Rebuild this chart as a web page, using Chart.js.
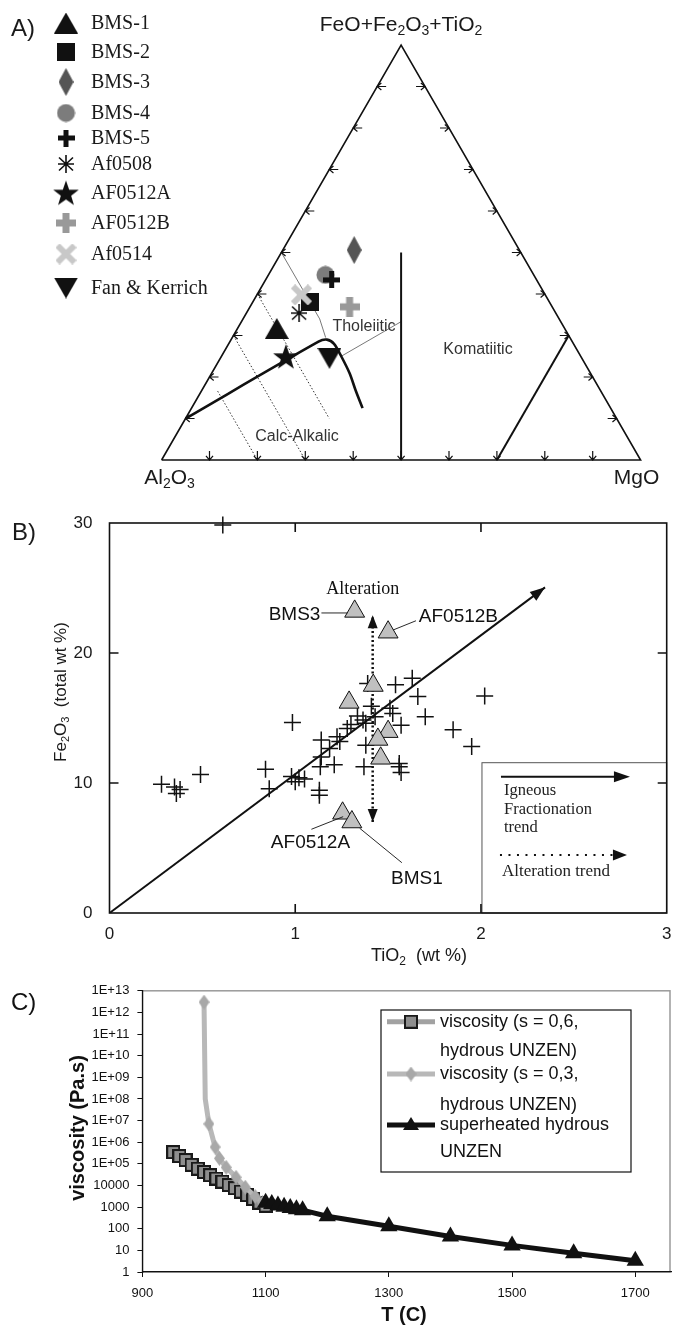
<!DOCTYPE html>
<html><head><meta charset="utf-8">
<script src="https://cdn.jsdelivr.net/npm/chart.js@4.4.1/dist/chart.umd.min.js"></script>
<style>
html,body{margin:0;padding:0;background:#fff;}
body{width:682px;height:1327px;position:relative;overflow:hidden;}
canvas{position:absolute;left:0;}
#cA{top:0}#cB{top:495px}#cC{top:975px}
</style></head><body>
<canvas id="cA" width="682" height="495"></canvas>
<canvas id="cB" width="682" height="480"></canvas>
<canvas id="cC" width="682" height="352"></canvas>
<script>
// ---------- A) ternary, compositions as [Al2O3, FeO+Fe2O3+TiO2, MgO]
const terNames = ["BMS-1","BMS-2","BMS-3","BMS-4","BMS-5","Af0508","AF0512A","AF0512B","Af0514","Fan & Kerrich"];
const terAl = [0.601,0.500,0.345,0.435,0.428,0.536,0.616,0.423,0.509,0.527];
const terFe = [0.317,0.381,0.506,0.446,0.434,0.354,0.249,0.369,0.398,0.245];
const terMg = [0.082,0.119,0.149,0.119,0.138,0.110,0.135,0.208,0.093,0.228];
const triOutline = [[1,0,0],[0,1,0],[0,0,1],[1,0,0]];
const thCaBoundary = [[0.90,0.10,0],[0.530,0.285,0.185],[0.510,0.290,0.200],[0.500,0.280,0.220],[0.500,0.250,0.250],[0.503,0.209,0.288],[0.511,0.168,0.321],[0.518,0.125,0.357]];
const komLine = [[0.5,0,0.5],[0.25,0.5,0.25]];
const mgLine = [[0.3,0,0.7],[0,0.3,0.7]];
const al50Line = [[0.5,0.5,0],[0.5,0.34,0.16],[0.51,0.295,0.195]];
const hmtLine = [[0.5,0.25,0.25],[1/3,1/3,1/3]];
const dotLines = [[[0.6,0.4,0],[0.6,0.1,0.3]],[[0.7,0.3,0],[0.7,0,0.3]],[[0.8,0.166,0.034],[0.8,0,0.2]]];
const terTicks = [0.1,0.2,0.3,0.4,0.5,0.6,0.7,0.8,0.9];

// ---------- B) TiO2 vs Fe2O3
const basaltTi = [0.28,0.35,0.36,0.38,0.49,0.84,0.86,0.985,0.98,1.0,1.02,1.05,1.14,1.14,1.135,1.13,1.13,1.21,1.185,1.225,1.24,1.28,1.30,1.335,1.365,1.38,1.41,1.38,1.37,1.39,1.43,1.51,1.525,1.57,1.54,1.63,1.66,1.70,1.56,1.56,1.57,1.85,1.95,2.02,0.61];
const basaltFe = [9.9,9.7,9.2,9.5,10.65,11.05,9.55,14.65,10.5,10.1,10.4,10.3,13.3,12.0,11.25,9.45,9.05,11.4,12.65,13.55,13.2,14.2,14.5,15.15,14.85,14.6,15.9,12.9,11.25,17.65,15.1,15.75,15.35,14.45,17.55,18.05,16.65,15.1,11.5,11.25,10.8,14.1,12.8,16.7,29.85];
const sampleTi = [1.32,1.50,1.42,1.29,1.50,1.445,1.46,1.255,1.305];
const sampleFe = [23.2,21.6,17.5,16.2,13.95,13.35,11.9,7.67,7.0];
const fracTrendTi = [0,2.345], fracTrendFe = [0,25.05];
const altTrendTi = [1.417,1.417], altTrendFe = [7.0,22.9];
const bXTicks = [0,1,2,3], bYTicks = [0,10,20,30];

// ---------- C) viscosity vs T
const tS06 = [950,960,970,980,990,1000,1010,1020,1030,1040,1050,1060,1070,1080,1090,1100];
const vS06 = [3.5e5,2.3e5,1.5e5,9e4,6e4,4.2e4,3e4,2.1e4,1.5e4,1.05e4,7.5e3,5.2e3,3.6e3,2.4e3,1.6e3,1.15e3];
const tS03 = [1000,1002,1008,1018,1025,1036,1052,1067,1083,1095];
const vS03 = [3e12,1e8,7e6,6e5,1.8e5,6.9e4,2.4e4,8.3e3,3.1e3,1.6e3];
const tSup = [1100,1110,1120,1130,1140,1150,1160,1200,1300,1400,1500,1600,1700];
const vSup = [1600,1400,1200,1050,900,800,720,380,130,44,17,7.3,3.3];
const cXTicks = [900,1100,1300,1500,1700];
const cYTicks = [1,10,100,1e3,1e4,1e5,1e6,1e7,1e8,1e9,1e10,1e11,1e12,1e13];

const SANS = '"Liberation Sans", Arial, sans-serif', SERIF = '"Liberation Serif", "Times New Roman", serif';

function mk(w,h,fn){const c=document.createElement('canvas');c.width=w;c.height=h;fn(c.getContext('2d'),w,h);return c;}
function plus(g,w,h,t,col){g.fillStyle=col;g.fillRect((w-t)/2,0,t,h);g.fillRect(0,(h-t)/2,w,t);}
function star(g,cx,cy,ro,ri){g.beginPath();for(let i=0;i<10;i++){const r=i%2?ri:ro,a=-Math.PI/2+i*Math.PI/5;g.lineTo(cx+r*Math.cos(a),cy+r*Math.sin(a));}g.closePath();g.fill();}
const markA = [
  mk(24,21,(g,w,h)=>{g.fillStyle='#111';g.beginPath();g.moveTo(w/2,0);g.lineTo(w,h);g.lineTo(0,h);g.fill();}),
  mk(18,18,(g,w,h)=>{g.fillStyle='#111';g.fillRect(0,0,w,h);}),
  mk(15,28,(g,w,h)=>{g.fillStyle='#555';g.beginPath();g.moveTo(w/2,0);g.lineTo(w,h/2);g.lineTo(w/2,h);g.lineTo(0,h/2);g.fill();}),
  mk(19,19,(g,w,h)=>{g.fillStyle='#7c7c7c';g.beginPath();g.arc(w/2,h/2,9,0,7);g.fill();}),
  mk(17,17,(g,w,h)=>plus(g,w,h,5,'#111')),
  mk(16,18,(g,w,h)=>{g.strokeStyle='#111';g.lineWidth=1.6;g.beginPath();g.moveTo(8,0);g.lineTo(8,18);g.moveTo(1,2.5);g.lineTo(15,15.5);g.moveTo(15,2.5);g.lineTo(1,15.5);g.moveTo(0,9);g.lineTo(16,9);g.stroke();}),
  mk(28,27,(g,w,h)=>{g.fillStyle='#111';star(g,14,14.5,13.5,5.4);}),
  mk(20,20,(g,w,h)=>plus(g,w,h,7,'#999')),
  mk(21,21,(g,w,h)=>{g.strokeStyle='#c8c8c8';g.lineWidth=6;g.beginPath();g.moveTo(2,2);g.lineTo(19,19);g.moveTo(19,2);g.lineTo(2,19);g.stroke();}),
  mk(24,21,(g,w,h)=>{g.fillStyle='#111';g.beginPath();g.moveTo(0,0);g.lineTo(w,0);g.lineTo(w/2,h);g.fill();})
];
const mSq = mk(14,14,(g,w,h)=>{g.fillStyle='#8e8e8e';g.fillRect(0,0,w,h);g.strokeStyle='#1a1a1a';g.lineWidth=2;g.strokeRect(1,1,w-2,h-2);});
const mDia = mk(11,15,(g,w,h)=>{g.fillStyle='#a8a8a8';g.beginPath();g.moveTo(w/2,0);g.lineTo(w,h/2);g.lineTo(w/2,h);g.lineTo(0,h/2);g.fill();});

// text with subscripts: "Fe_2O_3"
function rich(ctx,str,x,y,size,fam,align,weight){
  const parts=[];str.split(/(_\d)/).forEach(s=>{if(!s)return;if(s[0]==='_')parts.push([s[1],1]);else parts.push([s,0]);});
  const font=s=>(weight||'')+' '+(s?Math.round(size*0.66):size)+'px '+fam;
  let w=0;parts.forEach(([t,s])=>{ctx.font=font(s);w+=ctx.measureText(t).width;});
  let cx=align==='center'?x-w/2:align==='right'?x-w:x;
  ctx.textAlign='left';ctx.textBaseline='middle';
  parts.forEach(([t,s])=>{ctx.font=font(s);ctx.fillText(t,cx,s?y+size*0.3:y);cx+=ctx.measureText(t).width;});
}
function arrowHead(ctx,x0,y0,x1,y1,len,hw){
  const a=Math.atan2(y1-y0,x1-x0);ctx.beginPath();ctx.moveTo(x1,y1);
  ctx.lineTo(x1-len*Math.cos(a)+hw*Math.sin(a),y1-len*Math.sin(a)-hw*Math.cos(a));
  ctx.lineTo(x1-len*Math.cos(a)-hw*Math.sin(a),y1-len*Math.sin(a)+hw*Math.cos(a));
  ctx.closePath();ctx.fill();
}
const base = {responsive:false,animation:false,devicePixelRatio:1,events:[],plugins:{legend:{display:false},tooltip:{enabled:false}}};

// ================= A =================
function ter(a,f,m){const s=a+f+m;return {x:(m+f/2)/s,y:f/s};}
function lineDs(pts,o){return Object.assign({data:pts.map(p=>ter(p[0],p[1],p[2])),showLine:true,pointRadius:0,borderColor:'#111',borderWidth:1.5,clip:false,order:100},o);}
const dsA = [
  lineDs(triOutline,{borderWidth:1.6}),
  lineDs(thCaBoundary,{borderWidth:2.6,tension:0.3}),
  lineDs(komLine,{borderWidth:2}),
  lineDs(mgLine,{borderWidth:2}),
  lineDs(al50Line,{borderWidth:0.8,borderColor:'#555'}),
  lineDs(hmtLine,{borderWidth:0.8,borderColor:'#555'}),
  ...dotLines.map(l=>lineDs(l,{borderWidth:1,borderColor:'#333',borderDash:[1.5,2]})),
  ...terNames.map((n,i)=>({label:n,data:[ter(terAl[i],terFe[i],terMg[i])],pointStyle:markA[i],pointRadius:8,clip:false,order:50-i}))
];
const legendRowsA=[23,52,82,113,138,164,193,223,254,288];
const ternDeco={id:'ternDeco',afterDraw(ch){
  const {ctx,scales:{x,y}}=ch;ctx.save();ctx.strokeStyle='#111';ctx.lineWidth=1.2;
  const chev=(px,py,dx,dy)=>{const st=9,ar=5.5,k=0.7;ctx.beginPath();ctx.moveTo(px,py);ctx.lineTo(px+dx*st,py+dy*st);
    const c=Math.cos(k),s=Math.sin(k);
    ctx.moveTo(px+ar*(dx*c-dy*s),py+ar*(dx*s+dy*c));ctx.lineTo(px,py);ctx.lineTo(px+ar*(dx*c+dy*s),py+ar*(-dx*s+dy*c));ctx.stroke();};
  terTicks.forEach(t=>{
    chev(x.getPixelForValue(t/2),y.getPixelForValue(t),1,0);
    chev(x.getPixelForValue(1-t/2),y.getPixelForValue(t),-1,0);
    chev(x.getPixelForValue(t),y.getPixelForValue(0),0,-1);
  });
  ctx.fillStyle='#1a1a1a';
  rich(ctx,'FeO+Fe_2O_3+TiO_2',x.getPixelForValue(0.5),25,21,SANS,'center');
  rich(ctx,'Al_2O_3',x.getPixelForValue(0)+8,478,21,SANS,'center');
  rich(ctx,'MgO',x.getPixelForValue(1)-4,478,21,SANS,'center');
  ctx.fillStyle='#333';
  rich(ctx,'Tholeiitic',364,327,16,SANS,'center');
  rich(ctx,'Komatiitic',478,350,16,SANS,'center');
  rich(ctx,'Calc-Alkalic',297,437,16,SANS,'center');
  ctx.fillStyle='#1a1a1a';
  rich(ctx,'A)',11,29,24,SANS,'left');
  terNames.forEach((n,i)=>{const m=markA[i];ctx.drawImage(m,66-m.width/2,legendRowsA[i]-m.height/2);rich(ctx,n,91,legendRowsA[i]+1,20,SERIF,'left');});
  ctx.restore();
}};
new Chart(document.getElementById('cA'),{type:'scatter',data:{datasets:dsA},plugins:[ternDeco],
  options:Object.assign({},base,{layout:{padding:{left:161.6,right:41.4,top:45,bottom:35}},
    scales:{x:{type:'linear',min:0,max:1,display:false},y:{type:'linear',min:0,max:1,display:false}}})});

// ================= B =================
const bNotes=[
  {t:'BMS3',x:1.141,y:22.92,al:'right',l:[1.141,23.08,1.281,23.08]},
  {t:'AF0512B',x:1.660,y:22.79,al:'left',l:[1.527,21.77,1.65,22.48]},
  {t:'AF0512A',x:1.082,y:5.44,al:'center',l:[1.087,6.44,1.258,7.41]},
  {t:'BMS1',x:1.655,y:2.67,al:'center',l:[1.574,3.87,1.347,6.52]}
];
const bDeco={id:'bDeco',afterDraw(ch){
  const {ctx,chartArea:a,scales:{x,y}}=ch;const X=v=>x.getPixelForValue(v),Y=v=>y.getPixelForValue(v);
  ctx.save();ctx.fillStyle='#111';ctx.strokeStyle='#111';
  // arrow heads
  arrowHead(ctx,X(fracTrendTi[0]),Y(fracTrendFe[0]),X(fracTrendTi[1]),Y(fracTrendFe[1]),15,5.5);
  arrowHead(ctx,X(altTrendTi[0]),Y(altTrendFe[0]),X(altTrendTi[1]),Y(altTrendFe[1]),13,5);
  arrowHead(ctx,X(altTrendTi[1]),Y(altTrendFe[1]),X(altTrendTi[0]),Y(altTrendFe[0]),13,5);
  // labels
  ctx.lineWidth=0.9;
  bNotes.forEach(n=>{ctx.beginPath();ctx.moveTo(X(n.l[0]),Y(n.l[1]));ctx.lineTo(X(n.l[2]),Y(n.l[3]));ctx.stroke();rich(ctx,n.t,X(n.x)+(n.al==='right'?-1:n.al==='left'?1:0),Y(n.y),19,SANS,n.al);});
  rich(ctx,'Alteration',X(1.363),Y(24.92),18,SERIF,'center');
  // legend box
  const lx=X(2)+1,ly=762.7-495;ctx.fillStyle='#fff';ctx.fillRect(lx,ly,a.right-lx,a.bottom-ly);
  ctx.strokeStyle='#555';ctx.lineWidth=1;ctx.strokeRect(lx,ly,a.right-lx,a.bottom-ly);
  ctx.strokeStyle='#111';ctx.fillStyle='#111';ctx.lineWidth=2;
  ctx.beginPath();ctx.moveTo(lx+19,ly+14);ctx.lineTo(lx+135,ly+14);ctx.stroke();arrowHead(ctx,lx+100,ly+14,lx+148,ly+14,16,5.5);
  ctx.lineWidth=2.2;ctx.setLineDash([2,6.5]);ctx.beginPath();ctx.moveTo(lx+18,ly+92.3);ctx.lineTo(lx+135,ly+92.3);ctx.stroke();ctx.setLineDash([]);
  arrowHead(ctx,lx+100,ly+92.3,lx+145,ly+92.3,14,5.5);
  ctx.fillStyle='#222';
  rich(ctx,'Igneous',lx+22,ly+28,16.5,SERIF,'left');rich(ctx,'Fractionation',lx+22,ly+46.5,16.5,SERIF,'left');rich(ctx,'trend',lx+22,ly+64.5,16.5,SERIF,'left');
  rich(ctx,'Alteration trend',lx+20,ly+109,17,SERIF,'left');
  // frame and inward ticks
  ctx.strokeStyle='#111';ctx.lineWidth=1.6;ctx.strokeRect(a.left,a.top,a.right-a.left,a.bottom-a.top);
  ctx.beginPath();
  bXTicks.slice(1,-1).forEach(v=>{ctx.moveTo(X(v),a.bottom);ctx.lineTo(X(v),a.bottom-9);ctx.moveTo(X(v),a.top);ctx.lineTo(X(v),a.top+9);});
  bYTicks.slice(1,-1).forEach(v=>{ctx.moveTo(a.left,Y(v));ctx.lineTo(a.left+9,Y(v));ctx.moveTo(a.right,Y(v));ctx.lineTo(a.right-9,Y(v));});
  ctx.stroke();
  ctx.fillStyle='#1a1a1a';
  rich(ctx,'TiO_2  (wt %)',419,461.5,18,SANS,'center');
  ctx.translate(61,197);ctx.rotate(-Math.PI/2);rich(ctx,'Fe_2O_3  (total wt %)',0,0,17,SANS,'center');
  ctx.restore();ctx.save();ctx.fillStyle='#1a1a1a';rich(ctx,'B)',12,38,24,SANS,'left');ctx.restore();
}};
const tickFontB={size:17,family:SANS};
new Chart(document.getElementById('cB'),{type:'scatter',
  data:{datasets:[
    {data:sampleTi.map((v,i)=>({x:v,y:sampleFe[i]})),pointStyle:'triangle',pointRadius:11.5,backgroundColor:'#c0c0c0',borderColor:'#111',borderWidth:1,order:0},
    {data:basaltTi.map((v,i)=>({x:v,y:basaltFe[i]})),pointStyle:'cross',pointRadius:8.5,borderColor:'#111',borderWidth:1.5,order:1,clip:false},
    {data:fracTrendTi.map((v,i)=>({x:v,y:fracTrendFe[i]})),showLine:true,pointRadius:0,borderColor:'#111',borderWidth:2,order:2},
    {data:altTrendTi.map((v,i)=>({x:v,y:altTrendFe[i]})),showLine:true,pointRadius:0,borderColor:'#111',borderWidth:2.5,borderDash:[2,2.5],order:2}
  ]},plugins:[bDeco],
  options:Object.assign({},base,{layout:{padding:{left:0,right:15.3,top:28,bottom:0}},
    scales:{
      x:{type:'linear',min:0,max:3,afterFit:s=>{s.height=62;},afterBuildTicks:s=>{s.ticks=bXTicks.map(v=>({value:v}));},
        grid:{display:false},border:{display:false},ticks:{font:tickFontB,color:'#1a1a1a',padding:3,maxRotation:0}},
      y:{type:'linear',min:0,max:30,afterFit:s=>{s.width=109.5;},afterBuildTicks:s=>{s.ticks=bYTicks.map(v=>({value:v}));},
        grid:{display:false},border:{display:false},ticks:{font:tickFontB,color:'#1a1a1a',padding:9}}
    }})});

// ================= C =================
const cLegend=[
  {lines:['viscosity (s = 0,6,','hydrous UNZEN)'],col:'#a2a2a2',m:mSq},
  {lines:['viscosity (s = 0,3,','hydrous UNZEN)'],col:'#b8b8b8',m:mDia},
  {lines:['superheated hydrous','UNZEN'],col:'#111',m:'tri'}
];
const cDeco={id:'cDeco',
  beforeDraw(ch){const {ctx,chartArea:a}=ch;ctx.save();ctx.strokeStyle='#9a9a9a';ctx.lineWidth=1.5;ctx.strokeRect(a.left,a.top,a.right-a.left-1,a.bottom-a.top);ctx.restore();},
  afterDraw(ch){
  const {ctx}=ch;ctx.save();
  const bx=381,by=1010-975,bw=250,bh=162;ctx.fillStyle='#fff';ctx.fillRect(bx,by,bw,bh);ctx.strokeStyle='#111';ctx.lineWidth=1.2;ctx.strokeRect(bx,by,bw,bh);
  const rows=[[46.7,75.7],[99,130],[150,176.7]];
  cLegend.forEach((it,i)=>{const ly=rows[i][0];ctx.strokeStyle=it.col;ctx.lineWidth=5;ctx.beginPath();ctx.moveTo(387,ly);ctx.lineTo(435,ly);ctx.stroke();
    if(it.m==='tri'){ctx.fillStyle='#111';ctx.beginPath();ctx.moveTo(411,ly-8);ctx.lineTo(419,ly+5);ctx.lineTo(403,ly+5);ctx.fill();}
    else ctx.drawImage(it.m,411-it.m.width/2,ly-it.m.height/2);
    ctx.fillStyle='#111';it.lines.forEach((t,j)=>rich(ctx,t,440,rows[i][j],18,SANS,'left'));});
  ctx.fillStyle='#111';
  rich(ctx,'T (C)',404,340,20,SANS,'center','bold');
  ctx.save();ctx.translate(78,153);ctx.rotate(-Math.PI/2);rich(ctx,'viscosity (Pa.s)',0,0,20,SANS,'center','bold');ctx.restore();
  rich(ctx,'C)',11,28,24,SANS,'left');
  ctx.restore();
}};
const tickFontC={size:13,family:SANS};
new Chart(document.getElementById('cC'),{type:'scatter',
  data:{datasets:[
    {data:tSup.map((v,i)=>({x:v,y:vSup[i]})),showLine:true,borderColor:'#111',borderWidth:5,pointStyle:'triangle',pointRadius:10,backgroundColor:'#111',pointBorderWidth:0,order:0,clip:false},
    {data:tS03.map((v,i)=>({x:v,y:vS03[i]})),showLine:true,borderColor:'#b8b8b8',borderWidth:5,pointStyle:mDia,pointRadius:c=>c.dataIndex===1?0:6,order:1,clip:false},
    {data:tS06.map((v,i)=>({x:v,y:vS06[i]})),showLine:true,borderColor:'#a2a2a2',borderWidth:5,pointStyle:mSq,pointRadius:6,order:2,clip:false}
  ]},plugins:[cDeco],
  options:Object.assign({},base,{layout:{padding:{left:0,right:2,top:14,bottom:0}},
    scales:{
      x:{type:'linear',min:900,max:1758,afterFit:s=>{s.height=55;},afterBuildTicks:s=>{s.ticks=cXTicks.map(v=>({value:v}));},
        grid:{drawOnChartArea:false,tickLength:5,color:'#111'},border:{color:'#111',width:1.2},ticks:{font:tickFontC,color:'#111',padding:9,maxRotation:0,autoSkip:false,callback:v=>String(v)}},
      y:{type:'logarithmic',min:1,max:1e13,afterFit:s=>{s.width=142.4;},afterBuildTicks:s=>{s.ticks=cYTicks.map(v=>({value:v}));},
        grid:{drawOnChartArea:false,tickLength:5,color:'#111'},border:{color:'#111',width:1.2},
        ticks:{font:tickFontC,color:'#111',padding:8,autoSkip:false,callback:v=>v>=1e5?'1E+'+String(Math.round(Math.log10(v))).padStart(2,'0'):String(v)}}
    }})});
</script></body></html>
